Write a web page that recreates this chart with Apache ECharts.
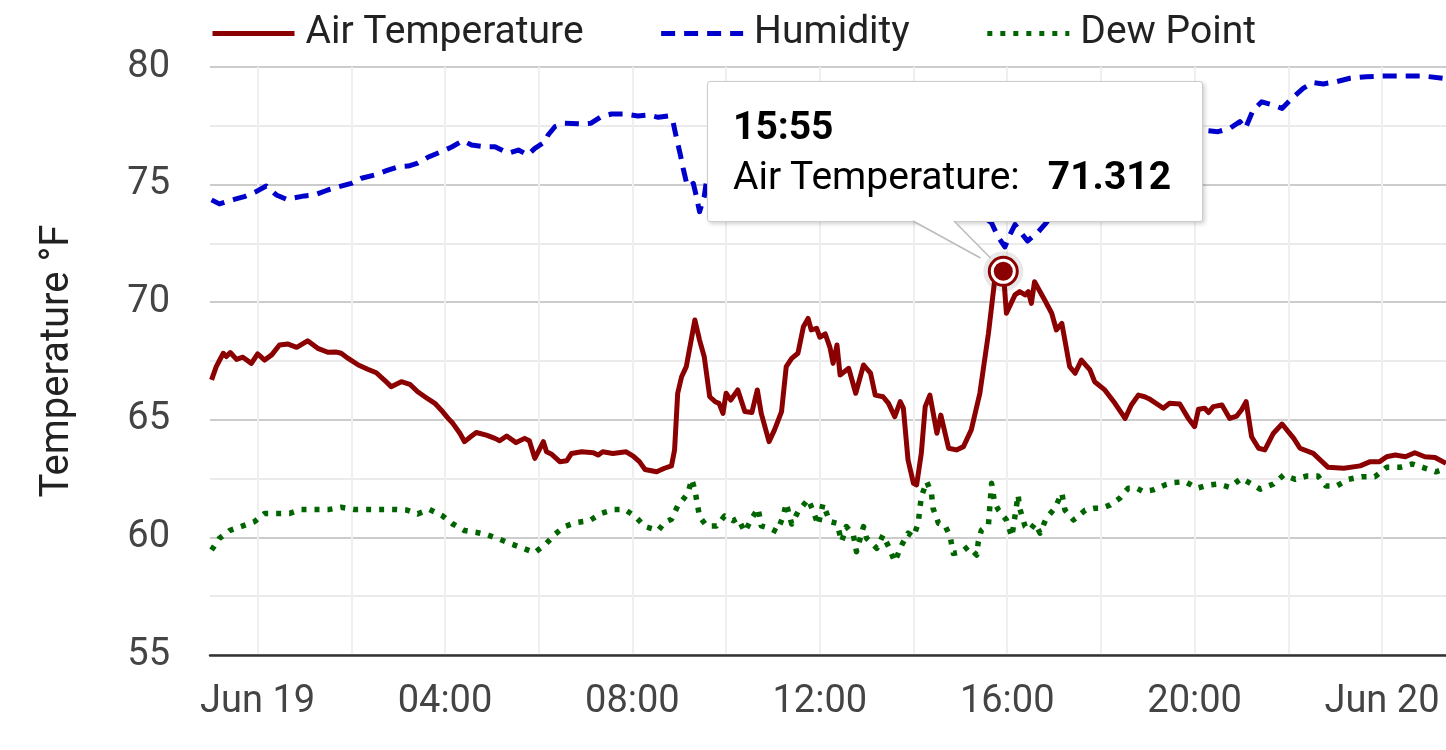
<!DOCTYPE html>
<html>
<head>
<meta charset="utf-8">
<title>Temperature</title>
<script src="https://cdn.jsdelivr.net/npm/echarts@6/dist/echarts.min.js"></script>
<style>
  html, body { margin: 0; padding: 0; background: #fff; }
  #chart { width: 1446px; height: 750px; }
</style>
</head>
<body>
<div id="chart"></div>
<script>
// series names
var seriesNames = ['Air Temperature', 'Humidity', 'Dew Point'];

// minutes from Jun 19 00:00 (negative = Jun 18)
var airTempMin = [-59,-53,-44,-40,-35,-27,-19,-8,0,9,18,28,39,50,64,77,90,101,107,116,129,141,152,163,171,184,195,205,216,227,235,244,250,259,265,274,280,293,304,310,319,331,342,348,355,366,370,376,387,396,402,415,430,436,442,455,472,481,489,496,511,521,530,534,538,543,549,560,566,572,579,586,591,596,600,606,615,624,633,640,645,655,662,671,677,684,692,699,705,709,716,720,727,733,737,742,746,757,766,776,785,791,801,808,816,823,827,833,840,844,850,855,861,870,875,885,895,904,914,925,936,944,955,959,970,976,983,987,991,995,1008,1017,1023,1030,1040,1047,1055,1066,1072,1085,1098,1111,1119,1128,1136,1143,1160,1168,1181,1192,1200,1205,1213,1218,1224,1235,1245,1254,1260,1266,1273,1282,1290,1301,1312,1327,1335,1352,1371,1391,1412,1425,1437,1446,1457,1470,1482,1495,1508,1522];
var airTemp = [66.7,67.26,67.83,67.69,67.86,67.57,67.66,67.4,67.8,67.54,67.76,68.18,68.22,68.08,68.36,68.04,67.87,67.88,67.83,67.61,67.33,67.15,67.0,66.67,66.41,66.62,66.51,66.19,65.94,65.7,65.42,65.06,64.85,64.43,64.07,64.31,64.46,64.35,64.21,64.11,64.31,64.03,64.21,64.11,63.36,64.07,63.64,63.55,63.22,63.26,63.57,63.64,63.6,63.5,63.64,63.57,63.64,63.46,63.22,62.89,62.79,62.94,63.04,63.72,66.13,66.83,67.26,69.24,68.39,67.68,65.98,65.77,65.7,65.27,66.13,65.84,66.27,65.35,65.31,66.27,65.27,64.07,64.57,65.35,67.26,67.61,67.83,68.96,69.31,68.82,68.89,68.51,68.65,68.08,67.4,68.18,66.9,67.19,66.13,67.33,66.98,66.05,65.98,65.7,65.13,65.77,65.5,63.29,62.3,62.23,63.57,65.56,66.05,64.43,65.2,63.79,63.72,63.86,64.57,66.13,68.68,70.94,71.312,69.53,70.31,70.45,70.31,70.45,69.95,70.87,70.09,69.53,68.82,69.1,67.26,66.98,67.54,67.12,66.62,66.27,65.7,65.06,65.63,66.05,65.98,65.87,65.49,65.7,65.67,65.06,64.71,65.45,65.49,65.31,65.56,65.63,65.06,65.16,65.42,65.77,64.28,63.79,63.72,64.43,64.82,64.21,63.79,63.57,62.98,62.94,63.04,63.22,63.22,63.43,63.5,63.43,63.6,63.43,63.4,63.15];

var humidityMin = [-59,-49,-29,-17,-2,11,24,37,60,73,90,101,120,133,150,165,180,193,205,218,235,248,263,274,291,304,321,334,346,355,368,372,381,393,415,427,440,453,470,487,500,513,526,532,536,541,545,549,553,558,562,566,572,575,590,610,630,650,675,700,720,745,770,795,820,845,865,885,905,920,935,940,948,957,964,970,979,986,993,1000,1008,1013,1030,1050,1075,1100,1130,1160,1185,1209,1230,1245,1258,1265,1275,1286,1301,1312,1327,1339,1352,1365,1382,1399,1420,1446,1467,1492,1518,1522];
var humidity = [74.35,74.18,74.38,74.49,74.7,74.94,74.56,74.38,74.52,74.56,74.77,74.88,75.05,75.27,75.41,75.59,75.76,75.79,75.91,76.16,76.4,76.59,76.87,76.68,76.61,76.61,76.33,76.47,76.26,76.54,76.82,77.11,77.47,77.61,77.58,77.61,77.89,78.0,78.0,77.92,77.96,77.86,77.92,77.68,77.04,76.33,75.69,75.12,74.91,75.05,74.49,73.85,74.49,75.2,75.5,75.7,75.4,75.9,75.3,75.1,75.6,75.9,76.2,75.8,75.5,75.9,75.2,74.6,74.3,73.9,73.5,73.37,72.8,72.35,72.9,73.3,72.9,72.6,72.8,73.0,73.3,73.5,74.3,75.0,75.7,76.3,76.8,77.1,77.3,77.32,77.25,77.39,77.68,77.39,78.17,78.52,78.38,78.24,78.74,79.09,79.34,79.28,79.38,79.52,79.59,79.62,79.62,79.62,79.52,79.5];

var dewMin = [-59,-49,-36,-19,-4,9,24,41,56,75,92,107,124,143,161,178,191,205,220,237,250,265,282,295,310,325,340,355,370,381,393,408,425,440,457,470,484,496,513,521,530,538,545,551,556,560,563,566,575,588,598,609,615,624,633,641,645,656,665,673,677,684,692,705,711,718,724,733,742,748,754,763,767,776,780,793,801,808,816,825,833,840,846,850,857,863,865,872,880,887,891,902,910,921,923,927,936,940,944,949,959,966,974,976,983,989,996,1002,1010,1021,1030,1034,1045,1060,1072,1081,1092,1104,1115,1126,1134,1147,1162,1173,1188,1203,1218,1230,1245,1260,1275,1284,1301,1314,1329,1344,1358,1368,1382,1397,1414,1431,1446,1463,1479,1492,1509,1522];
var dew = [59.46,59.96,60.29,60.49,60.67,61.02,61.02,61.02,61.19,61.19,61.19,61.28,61.19,61.19,61.19,61.19,61.16,61.0,61.19,60.91,60.57,60.29,60.2,60.1,59.92,59.72,59.54,59.35,59.75,60.14,60.46,60.63,60.71,61.02,61.19,61.19,60.88,60.46,60.29,60.63,60.77,61.34,61.62,61.88,62.47,62.02,61.45,60.88,60.49,60.49,60.91,60.71,60.81,60.24,60.81,61.23,60.49,60.39,60.24,60.88,61.45,60.57,61.09,61.62,61.16,60.53,61.42,60.67,60.6,59.82,60.46,60.1,59.39,60.46,59.96,59.54,60.1,59.61,58.97,59.68,60.18,60.03,60.6,61.73,62.37,61.88,61.24,60.6,60.53,60.03,59.32,59.39,59.61,59.25,59.82,60.31,60.53,62.3,61.45,61.16,60.74,60.03,61.8,61.24,60.46,60.31,60.6,60.18,60.81,61.24,61.88,61.16,60.74,61.16,61.24,61.24,61.38,61.66,62.09,62.09,61.95,62.02,62.23,62.33,62.37,62.09,62.23,62.27,62.13,62.51,62.23,62.05,62.27,62.65,62.47,62.61,62.61,62.19,62.19,62.47,62.58,62.58,62.98,62.98,63.12,62.98,62.79,62.94];

// axis range (minutes) and tick positions
var xMinMin = -61, xMaxMin = 1522;
var labelMin = [0, 240, 480, 720, 960, 1200, 1440];
var gridMin = [0, 120, 240, 360, 480, 600, 720, 840, 960, 1080, 1200, 1320, 1440];
var hoverMin = 955; // 15:55 reading shown in the tooltip

var colors = ['#8b0000', '#0000cd', '#006400'];
var dashes = ['solid', [14, 9], [5, 8]];
var widths = [5, 5, 5.5];
var font = 'Roboto, "Noto Sans", sans-serif';

function pad(n) { return (n < 10 ? '0' : '') + n; }
function clock(m) {
  var t = ((m % 1440) + 1440) % 1440;
  return pad(Math.floor(t / 60)) + ':' + pad(t % 60);
}
function pairs(mins, vals) {
  var out = [];
  for (var i = 0; i < mins.length; i++) out.push([mins[i], vals[i]]);
  return out;
}

var hoverIdx = airTempMin.indexOf(hoverMin);
var hoverPt = [hoverMin, airTemp[hoverIdx]];

// little arrow under the tooltip box, drawn relative to its bottom edge
var arrowSvg = '<svg width="1" height="1" style="position:absolute;left:0;top:100%;overflow:visible">' +
  '<polygon points="205,-0.5 246,-0.5 282.5,37 272.5,37" fill="#fff"/>' +
  '<polyline points="205,0 272.5,37" fill="none" stroke="#bbb" stroke-width="1.5"/>' +
  '<polyline points="246,0 282.5,37" fill="none" stroke="#bbb" stroke-width="1.5"/>' +
  '</svg>';

var chart = echarts.init(document.getElementById('chart'));

var series = seriesNames.map(function (name, i) {
  var src = [[airTempMin, airTemp], [humidityMin, humidity], [dewMin, dew]][i];
  return {
    name: name, type: 'line', symbol: 'none', data: pairs(src[0], src[1]),
    lineStyle: { color: colors[i], width: widths[i], type: dashes[i], join: 'round' },
    itemStyle: { color: colors[i] }, z: 4 - i
  };
});
series.push({
  name: 'hover', type: 'scatter', z: 6, silent: true,
  data: [
    { value: hoverPt, symbolSize: 40, itemStyle: { color: 'rgba(0,0,0,0.09)', opacity: 1 } },
    { value: hoverPt, symbolSize: 28, itemStyle: { color: '#fff', borderColor: colors[0], borderWidth: 3, opacity: 1 } },
    { value: hoverPt, symbolSize: 19, itemStyle: { color: colors[0], opacity: 1 } }
  ]
});

var option = {
  animation: false,
  textStyle: { fontFamily: font },
  grid: { left: 210, right: 0, top: 67, bottom: 95, containLabel: false },
  legend: {
    data: seriesNames,
    left: 210,
    top: 14,
    padding: 0,
    itemWidth: 82,
    itemHeight: 20,
    itemGap: 75,
    itemStyle: { opacity: 0 },
    lineStyle: { width: 5 },
    textStyle: { fontSize: 39, color: '#222', fontFamily: font, padding: [0, 0, 0, 6] }
  },
  tooltip: {
    trigger: 'item',
    triggerOn: 'none',
    alwaysShowContent: true,
    transitionDuration: 0,
    backgroundColor: '#fff',
    borderColor: '#ccc',
    borderWidth: 1,
    padding: [19, 31, 20, 25],
    extraCssText: 'box-shadow: 2px 2px 4px rgba(0,0,0,0.18); border-radius: 3px; line-height: 50px;',
    textStyle: { fontFamily: font, fontSize: 39, color: '#000' },
    position: function (point) { return [point[0] - 296, point[1] - 190]; },
    formatter: function (p) {
      return '<div style="font-weight:bold;line-height:50px">' + clock(p.value[0]) + '</div>' +
        '<div style="line-height:50px">' + seriesNames[0] + ':<b style="margin-left:28px">' + p.value[1] + '</b></div>' +
        arrowSvg;
    }
  },
  xAxis: {
    type: 'value',
    min: xMinMin,
    max: xMaxMin,
    axisLine: { show: true, onZero: false, lineStyle: { color: '#333', width: 2.5 } },
    axisTick: { show: false, customValues: gridMin },
    axisLabel: {
      customValues: labelMin,
      margin: 28,
      fontSize: 38,
      color: '#444',
      fontFamily: font,
      formatter: function (v) {
        if (v % 1440 === 0) return 'Jun ' + (19 + v / 1440);
        return clock(v);
      }
    },
    splitLine: { show: true, lineStyle: { color: '#efefef', width: 2 } }
  },
  yAxis: {
    type: 'value',
    min: 55,
    max: 80,
    interval: 5,
    name: 'Temperature °F',
    nameLocation: 'middle',
    nameGap: 132,
    nameRotate: 90,
    nameTextStyle: { fontSize: 40, color: '#222', fontFamily: font },
    axisLine: { show: false },
    axisTick: { show: false },
    axisLabel: { margin: 40, fontSize: 38, color: '#444', fontFamily: font },
    splitLine: { lineStyle: { color: '#cccccc', width: 2 } },
    minorTick: { show: false, splitNumber: 2 },
    minorSplitLine: { show: true, lineStyle: { color: '#ebebeb', width: 2 } }
  },
  series: series
};

chart.setOption(option);
setTimeout(function () {
  chart.dispatchAction({ type: 'showTip', seriesIndex: 3, dataIndex: 2 });
}, 50);
</script>
</body>
</html>
